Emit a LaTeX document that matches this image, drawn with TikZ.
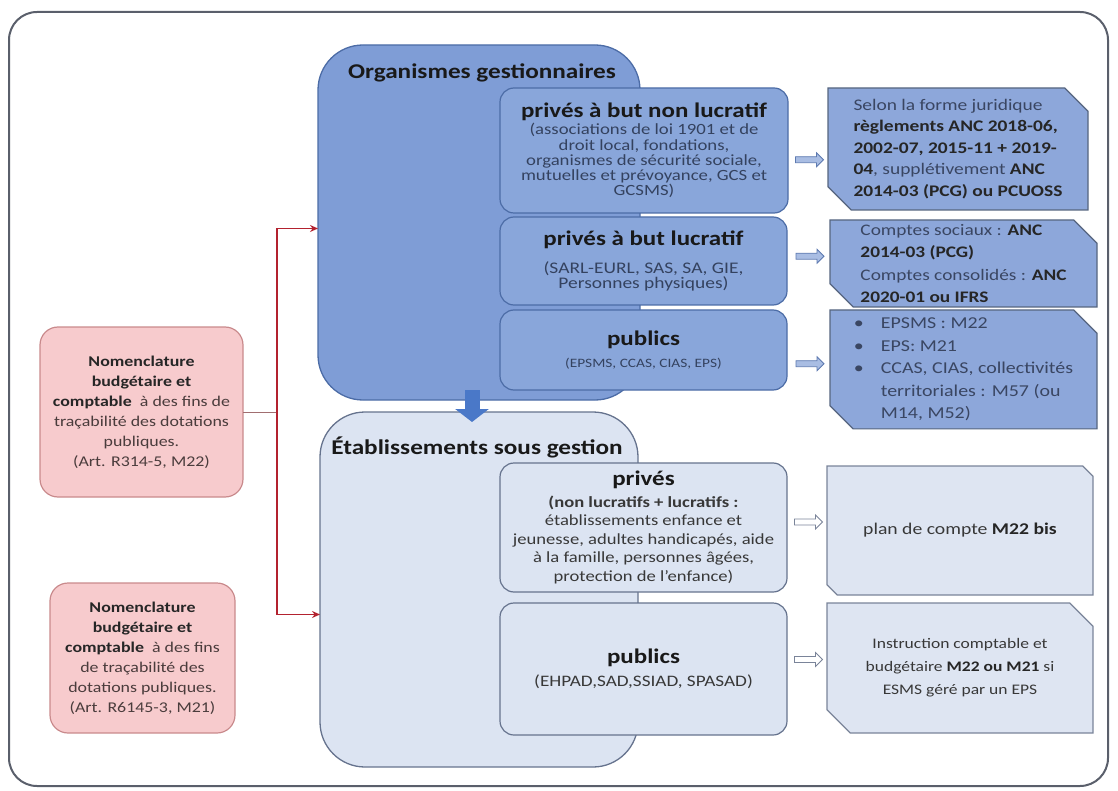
\documentclass[tikz,border=0pt]{standalone}
\usepackage{fontspec}
\setmainfont{Carlito}[FakeStretch=1.2]
\usetikzlibrary{shapes.misc,shapes.arrows,arrows.meta,calc}
\newcommand\myfs[2]{\fontsize{#1}{#2}\selectfont}
\definecolor{frame}{HTML}{5A5F6B}
\definecolor{orgfill}{HTML}{7F9DD6}
\definecolor{orgline}{HTML}{4C6CA6}
\definecolor{subfill}{HTML}{89A6DA}
\definecolor{subtxt}{HTML}{34425F}
\definecolor{rfill}{HTML}{8DA7DA}
\definecolor{rline}{HTML}{56657F}
\definecolor{rtxt}{HTML}{3A4662}
\definecolor{etabfill}{HTML}{DCE4F2}
\definecolor{etabline}{HTML}{66738E}
\definecolor{esubtxt}{HTML}{383838}
\definecolor{r2fill}{HTML}{DEE5F2}
\definecolor{r2line}{HTML}{7A8499}
\definecolor{pinkfill}{HTML}{F7CBCD}
\definecolor{pinkline}{HTML}{C98A8C}
\definecolor{pinktxt}{HTML}{4A3C3C}
\definecolor{redc}{HTML}{B3222F}
\definecolor{downblue}{HTML}{4A78C8}
\definecolor{harfill}{HTML}{A9BDE3}
\definecolor{harline}{HTML}{5E7AB0}
\begin{document}
\begin{tikzpicture}[x=1pt,y=-1pt,
  every node/.style={inner sep=0pt, outer sep=0pt},
  bigbox/.style={rounded corners=45pt, line width=1.3pt, anchor=north west},
  orgbox/.style={bigbox, draw=orgline, fill=orgfill},
  etabbox/.style={bigbox, draw=etabline, fill=etabfill},
  bigtitle/.style={font=\myfs{21}{24}\bfseries, text=black!90},
  subbox/.style={rounded corners=14pt, line width=1.2pt, anchor=north west, align=center},
  osub/.style={subbox, draw=orgline, fill=subfill, text=subtxt},
  esub/.style={subbox, draw=etabline, fill=etabfill, text=esubtxt},
  rboxbase/.style={chamfered rectangle, chamfered rectangle corners={north east,south west},
     chamfered rectangle xsep=20pt, anchor=north west, line width=1.2pt},
  rbox/.style={rboxbase, draw=rline, fill=rfill, text=rtxt, align=left},
  rboxl/.style={rboxbase, draw=r2line, fill=r2fill, text=esubtxt, align=center},
  pinkbox/.style={rounded corners=18pt, draw=pinkline, fill=pinkfill, line width=1.2pt,
     anchor=north west, align=center, text=pinktxt, font=\myfs{14.9}{20}},
  hart/.style={single arrow, draw=harline, fill=harfill, line width=0.8pt, minimum height=28pt,
     inner sep=2.6pt, single arrow head extend=4pt},
  harb/.style={hart, draw=r2line, fill=white},
  redline/.style={draw=redc, line width=1.8pt},
  stitle/.style={font=\myfs{20.8}{22}\bfseries, text=black!90}
]
\useasboundingbox (0,0) rectangle (1118,791);
\draw[frame, line width=2pt, rounded corners=28pt] (9,12) rectangle (1108,786);

% ---------- top group
\node[orgbox, minimum width=322pt, minimum height=355pt] (org) at (318,45) {};
\node[bigtitle] (orgt) at (482,73) {Organismes gestionnaires};

\node[osub, minimum width=288pt, minimum height=125pt, font=\myfs{15.6}{15.2}] (sb1) at (500,88)
 {{\myfs{20.8}{22}\bfseries\color{black!90}privés à but non lucratif}\\[2pt]
  (associations de loi 1901 et de\\ droit local, fondations,\\ organismes de sécurité sociale,\\
  mutuelles et prévoyance, GCS et\\ GCSMS)};
\node[osub, minimum width=287pt, minimum height=88pt, font=\myfs{16.2}{15}] (sb2) at (500,217)
 {{\myfs{20.8}{22}\bfseries\color{black!90}privés à but lucratif}\\[12pt]
  (SARL-EURL, SAS, SA, GIE,\\ Personnes physiques)};
\node[osub, minimum width=287pt, minimum height=80pt, font=\myfs{12.8}{14}] (sb3) at (500,310)
 {{\myfs{20.8}{22}\bfseries\color{black!90}publics}\\[8pt]
  (EPSMS, CCAS, CIAS, EPS)};

\node[rbox, minimum width=260pt, minimum height=122pt, font=\myfs{16.2}{21.5}] (r1) at (828,88)
 {Selon la forme juridique\\
  \textbf{\color{black!85}règlements ANC 2018-06,}\\
  \textbf{\color{black!85}2002-07, 2015-11 + 2019-}\\
  \textbf{\color{black!85}04}, supplétivement \textbf{\color{black!85}ANC}\\
  \textbf{\color{black!85}2014-03 (PCG) ou PCUOSS}};
\node[rbox, minimum width=267pt, minimum height=87pt, font=\myfs{16.1}{22.5}] (r2) at (830,220)
 {Comptes sociaux : \textbf{\color{black!85}ANC}\\
  \textbf{\color{black!85}2014-03 (PCG)}\\
  Comptes consolidés : \textbf{\color{black!85}ANC}\\
  \textbf{\color{black!85}2020-01 ou IFRS}};
\node[rbox, minimum width=267pt, minimum height=113pt, font=\myfs{16.6}{22.5}] (r3) at (830,310)
 {\begin{tabular}{@{}l@{\hspace{17pt}}l@{}}
  \textbullet & EPSMS : M22\\
  \textbullet & EPS: M21\\
  \textbullet & CCAS, CIAS, collectivités\\
   & territoriales : M57 (ou\\
   & M14, M52)
  \end{tabular}};

\node[hart] (a1) at ($(sb1.east)!0.5!(r1.west)+(0,10)$) {};
\node[hart] (a2) at ($(sb2.east)!0.5!(r2.west)+(0,-6)$) {};
\node[hart] (a3) at ($(sb3.east)!0.5!(r3.west)+(0,4)$) {};

% ---------- bottom group
\node[etabbox, minimum width=318pt, minimum height=355pt] (etab) at (320,412) {};
\node[bigtitle] (etabt) at (477,447) {Établissements sous gestion};

\coordinate (dnx) at (472,0);
\draw[draw=downblue, line width=15pt, -{Triangle[width=33pt,length=13pt]}]
  ($(org.south -| dnx)+(0,-10)$) -- ($(etab.north -| dnx)+(0,10)$);

\node[esub, minimum width=287pt, minimum height=129pt, font=\myfs{15.5}{18.5}] (bs1) at (500,463)
 {{\myfs{20.8}{22}\bfseries\color{black!90}privés}\\[3pt]
  \textbf{(non lucratifs + lucratifs :}\\ établissements enfance et\\
  jeunesse, adultes handicapés, aide\\ à la famille, personnes âgées,\\ protection de l'enfance)};
\node[esub, minimum width=287pt, minimum height=132pt, font=\myfs{16}{17}] (bs2) at (500,603)
 {{\myfs{20.8}{22}\bfseries\color{black!90}publics}\\[6pt]
  (EHPAD,SAD,SSIAD, SPASAD)};

\node[rboxl, minimum width=266pt, minimum height=129pt, font=\myfs{16.4}{23}] (r4) at (827,466)
 {plan de compte \textbf{\color{black!85}M22 bis}};
\node[rboxl, minimum width=266pt, minimum height=130pt, font=\myfs{14.6}{23}] (r5) at (827,603)
 {Instruction comptable et\\ budgétaire \textbf{\color{black!85}M22 ou M21} si\\ ESMS géré par un EPS};

\node[harb] (a4) at ($(bs1.east)!0.5!(r4.west)+(0,-7)$) {};
\node[harb] (a5) at ($(bs2.east)!0.5!(r5.west)+(0,-9)$) {};

% ---------- pink boxes
\node[pinkbox, minimum width=203pt, minimum height=170pt] (p1) at (40,327)
 {\textbf{\color{black!85}Nomenclature}\\ \textbf{\color{black!85}budgétaire et}\\
  \textbf{\color{black!85}comptable}\ \ à des fins de\\ traçabilité des dotations\\ publiques.\\ (Art. R314-5, M22)};
\node[pinkbox, minimum width=185pt, minimum height=150pt] (p2) at (50,583)
 {\textbf{\color{black!85}Nomenclature}\\ \textbf{\color{black!85}budgétaire et}\\
  \textbf{\color{black!85}comptable}\ \ à des fins\\ de traçabilité des\\ dotations publiques.\\ (Art. R6145-3, M21)};

% ---------- red connector
\coordinate (rv) at (277,412);
\draw[draw=pinkline!80!black, line width=0.8pt] (p1.east) -- (rv);
\draw[redline, {Stealth[length=8pt,width=7pt]}-{Stealth[length=8pt,width=7pt]}]
  ($(org.west)+(0,6)$) -| (rv) |- ($(etab.west)+(0,25)$);
\end{tikzpicture}
\end{document}
